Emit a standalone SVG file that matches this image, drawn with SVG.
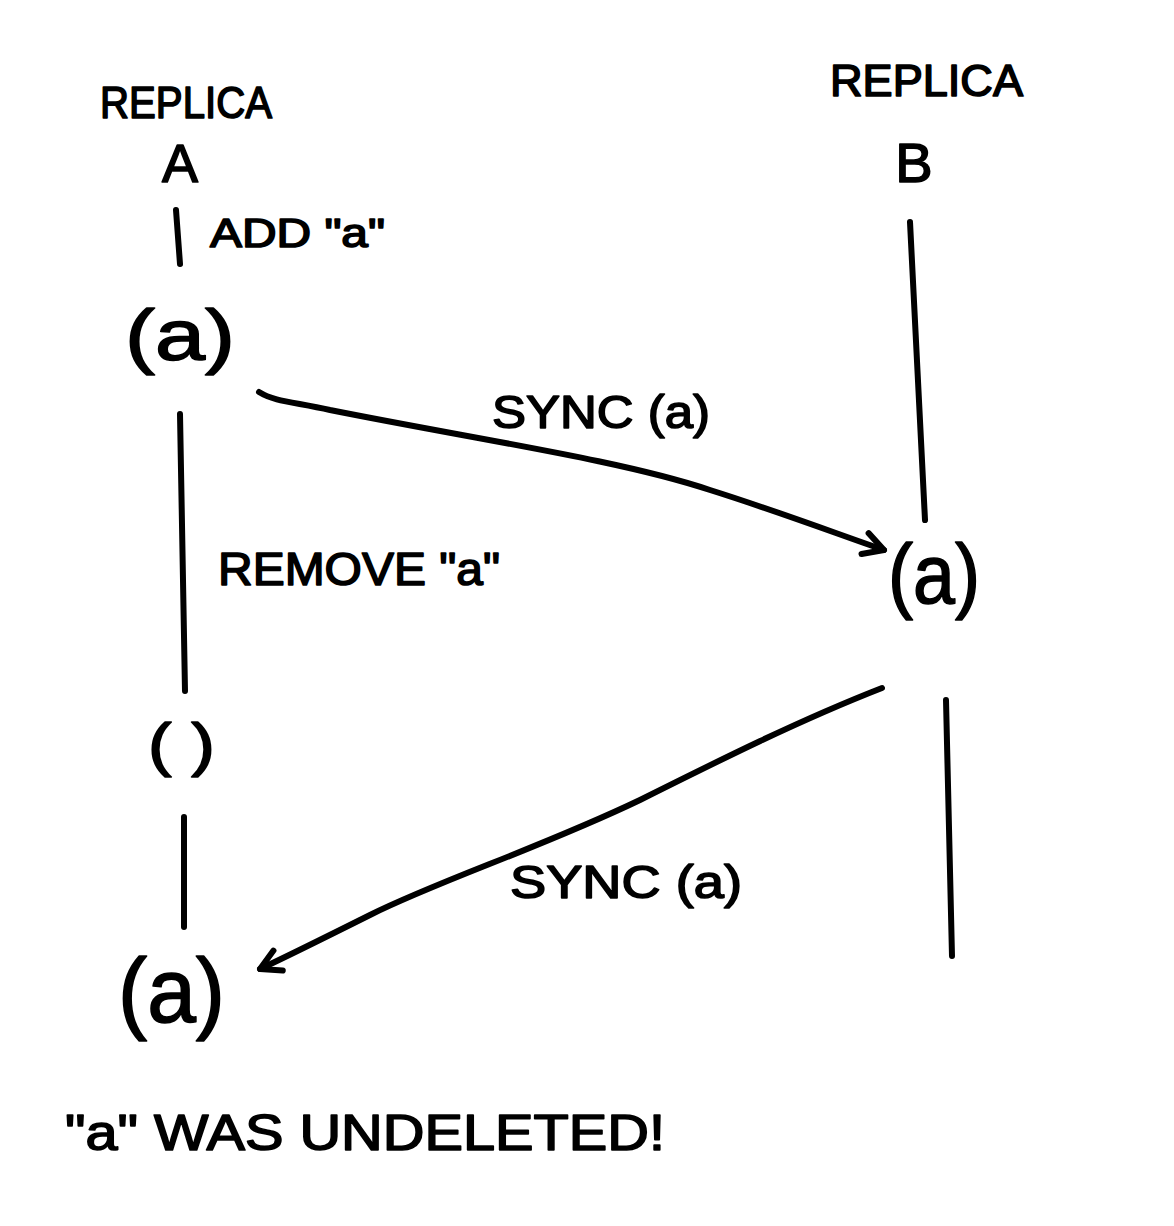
<svg xmlns="http://www.w3.org/2000/svg" width="1174" height="1226" viewBox="0 0 1174 1226">
<style>
.t{font-family:"Liberation Sans","DejaVu Sans",sans-serif;fill:#000;stroke:#000;stroke-width:1.6;stroke-linejoin:round}
.ln{stroke:#000;stroke-width:6;fill:none;stroke-linecap:round;stroke-linejoin:round}
</style>
<defs>
<marker id="ah" viewBox="0 0 30 30" refX="26" refY="15" markerWidth="30" markerHeight="30" markerUnits="userSpaceOnUse" orient="auto">
<path d="M6,4 L26,15 L6,26" fill="none" stroke="#000" stroke-width="6" stroke-linecap="round" stroke-linejoin="round"/>
</marker>
</defs>
<rect width="1174" height="1226" fill="#fff"/>
<g id="replica-a">
<text class="t" x="100" y="118" font-size="44" textLength="172" lengthAdjust="spacingAndGlyphs">REPLICA</text>
<text class="t" x="180" y="182" font-size="54" text-anchor="middle">A</text>
</g>
<g id="replica-b">
<text class="t" x="830" y="96" font-size="44" textLength="193" lengthAdjust="spacingAndGlyphs">REPLICA</text>
<text class="t" x="914" y="182" font-size="56" text-anchor="middle">B</text>
</g>
<g id="a-state1">
<text class="t" x="125" y="360" font-size="72" textLength="110" lengthAdjust="spacingAndGlyphs">(a)</text>
</g>
<g id="a-state2">
<text class="t" x="148" y="765" font-size="60" textLength="67" lengthAdjust="spacingAndGlyphs" xml:space="preserve">( )</text>
</g>
<g id="a-state3">
<text class="t" x="118" y="1022" font-size="90" textLength="107" lengthAdjust="spacingAndGlyphs">(a)</text>
</g>
<g id="b-state1">
<text class="t" x="888" y="603" font-size="84" textLength="92" lengthAdjust="spacingAndGlyphs">(a)</text>
</g>
<g id="connectors">
<path class="ln" d="M176,210 L180,264"/>
<path class="ln" d="M180,414 L185,691"/>
<path class="ln" d="M184,817 L184,927"/>
<path class="ln" d="M910,222 L925,520"/>
<path class="ln" d="M946,700 L952,956"/>
<path class="ln" d="M259,392 C275,402 295,402 330,410 C480,440 620,460 710,490 C780,512 840,535 884,550" marker-end="url(#ah)"/>
<path class="ln" d="M882,688 C800,720 720,760 640,800 C540,848 440,880 370,915 C320,940 290,955 260,969" marker-end="url(#ah)"/>
</g>
<g id="labels">
<text class="t" x="210" y="247" font-size="40" textLength="175" lengthAdjust="spacingAndGlyphs">ADD "a"</text>
<text class="t" x="492" y="428" font-size="46" textLength="218" lengthAdjust="spacingAndGlyphs">SYNC (a)</text>
<text class="t" x="218" y="585" font-size="46" textLength="282" lengthAdjust="spacingAndGlyphs">REMOVE "a"</text>
<text class="t" x="510" y="898" font-size="46" textLength="232" lengthAdjust="spacingAndGlyphs">SYNC (a)</text>
<text class="t" x="65" y="1150" font-size="50" textLength="600" lengthAdjust="spacingAndGlyphs">"a" WAS UNDELETED!</text>
</g>
</svg>
